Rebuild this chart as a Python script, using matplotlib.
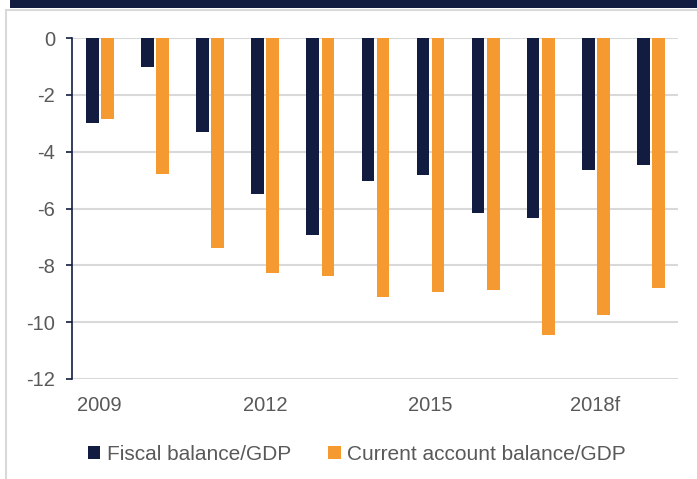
import matplotlib.pyplot as plt
from matplotlib.patches import Rectangle
import numpy as np

plt.rcParams['font.family'] = ['Liberation Sans', 'DejaVu Sans']
plt.rcParams['axes.unicode_minus'] = False

years = ["2009", "2010", "2011", "2012", "2013", "2014", "2015", "2016", "2017", "2018f", "2019f"]
fiscal = [-3.0, -1.02, -3.32, -5.49, -6.94, -5.03, -4.82, -6.16, -6.35, -4.64, -4.45]
current_account = [-2.85, -4.77, -7.39, -8.27, -8.39, -9.12, -8.95, -8.86, -10.45, -9.73, -8.81]
shown_ticks = ["2009", "2012", "2015", "2018f"]

navy = "#121c40"
orange = "#f59a31"
grey_text = "#595959"

fig = plt.figure(figsize=(6.97, 4.79), dpi=100)

# frame and top band
fig.patches.append(Rectangle((6 / 697, -0.1), 1.2, 1 - 9.5 / 479 + 0.1, transform=fig.transFigure,
                             facecolor="white", edgecolor="#d9d9d9", linewidth=1.5, zorder=-2))
fig.patches.append(Rectangle((10 / 697, 1 - 8 / 479), 1, 8 / 479, transform=fig.transFigure,
                             facecolor=navy, edgecolor="none", zorder=-1))

ax = fig.add_axes([72 / 697, 1 - 379 / 479, (678 - 72) / 697, (379 - 38.1) / 479])
ax.set_facecolor("none")

x = np.arange(len(years))
w = 0.23
ax.bar(x - 0.13, fiscal, w, color=navy, label="Fiscal balance/GDP", zorder=3)
ax.bar(x + 0.145, current_account, w, color=orange, label="Current account balance/GDP", zorder=3)

ax.set_xlim(-0.5, len(years) - 0.5)
ax.set_ylim(-12, 0)
ax.set_yticks(range(-12, 1, 2))
ax.grid(axis="y", color="#d9d9d9", linewidth=1.5, zorder=0)

ticks = [years.index(t) for t in shown_ticks]
ax.set_xticks(ticks)
ax.set_xticklabels(shown_ticks)

for s in ["top", "right", "bottom"]:
    ax.spines[s].set_visible(False)
ax.spines["left"].set_color(navy)
ax.spines["left"].set_linewidth(1.2)

ax.tick_params(axis="y", colors=navy, labelcolor=grey_text, labelsize=14.5, length=4, width=1.2, pad=8)
ax.tick_params(axis="x", length=0, labelcolor=grey_text, labelsize=14.5, pad=12)

fig.legend(loc="center", bbox_to_anchor=(357 / 697, 1 - 454 / 479), ncol=2, frameon=False,
           fontsize=15, labelcolor=grey_text, handlelength=0.6, handleheight=0.6,
           handletextpad=0.3, columnspacing=1.8)

fig.savefig("out.png", dpi=100)
